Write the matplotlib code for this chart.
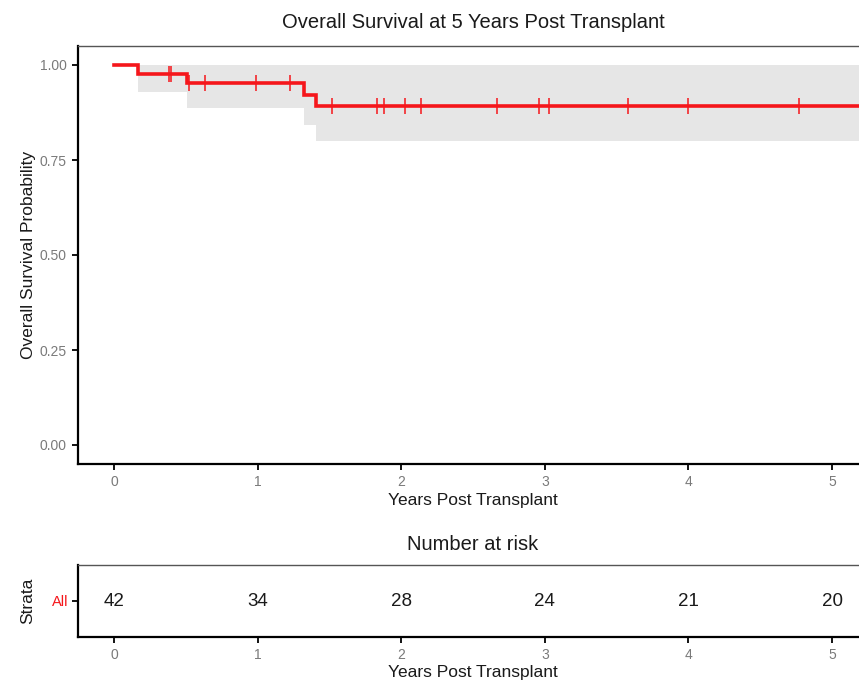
import matplotlib
matplotlib.use("Agg")
import matplotlib.pyplot as plt
import numpy as np

plt.rcParams["font.family"] = ["Liberation Sans", "DejaVu Sans"]

# Data
step_times = [0.0, 0.17, 0.51, 1.32, 1.407, 5.25]
surv = [1.0, 0.976, 0.952, 0.921, 0.893, 0.893]
ci_lower = [1.0, 0.930, 0.888, 0.841, 0.801, 0.801]
ci_upper = [1.0, 1.0, 1.0, 1.0, 1.0, 1.0]
censor_times = [0.385, 0.40, 0.52, 0.634, 0.99, 1.226, 1.52, 1.83, 1.88,
                2.03, 2.14, 2.67, 2.96, 3.03, 3.58, 4.0, 4.77]
risk_times = [0, 1, 2, 3, 4, 5]
risk_counts = [42, 34, 28, 24, 21, 20]
strata = ["All"]
x_ticks = [0, 1, 2, 3, 4, 5]
y_ticks = [0.0, 0.25, 0.5, 0.75, 1.0]
y_ticklabels = ["0.00", "0.25", "0.50", "0.75", "1.00"]

W, H = 859, 685
fig = plt.figure(figsize=(W / 100, H / 100), dpi=100)
fig.patch.set_facecolor("white")

def frac(l, t, r, b):
    return [l / W, 1 - b / H, (r - l) / W, (b - t) / H]

tick_col = "#7a7a7a"
red = "#F5161B"
txt = "#1a1a1a"

ax = fig.add_axes(frac(78, 46, 868, 464))
ax.fill_between(step_times, ci_lower, ci_upper, step="post", color="#E6E6E6", lw=0)
ax.step(step_times, surv, where="post", color=red, lw=2.6, solid_joinstyle="miter")
cens_y = [surv[np.searchsorted(step_times, t, side="right") - 1] for t in censor_times]
ax.plot(censor_times, cens_y, ls="none", marker="|", ms=12, mew=1.1, color=red)
ax.set_xlim(-0.25, 5.25)
ax.set_ylim(-0.05, 1.05)
ax.set_xticks(x_ticks)
ax.set_yticks(y_ticks)
ax.set_yticklabels(y_ticklabels)
ax.tick_params(axis="both", colors="black", labelcolor=tick_col, labelsize=10,
               length=4, width=1.3, direction="out", pad=4)
for s in ["left", "bottom"]:
    ax.spines[s].set_linewidth(1.6)
    ax.spines[s].set_color("black")
for s in ["top", "right"]:
    ax.spines[s].set_linewidth(1.0)
    ax.spines[s].set_color("#555555")
ax.set_xlabel("Years Post Transplant", fontsize=12.5, color=txt, labelpad=3)
ax.set_ylabel("Overall Survival Probability", fontsize=12.5, color=txt, labelpad=3)
ax.set_title("Overall Survival at 5 Years Post Transplant", fontsize=14.5,
             color=txt, pad=13)

ax2 = fig.add_axes(frac(78, 565, 868, 637))
for t, n in zip(risk_times, risk_counts):
    ax2.text(t, 0, str(n), ha="center", va="center", fontsize=13.5, color=txt)
ax2.set_xlim(-0.25, 5.25)
ax2.set_ylim(-0.5, 0.5)
ax2.set_xticks(x_ticks)
ax2.set_yticks([0])
ax2.set_yticklabels(strata)
ax2.tick_params(axis="x", colors="black", labelcolor=tick_col, labelsize=10,
                length=4, width=1.3, pad=4)
ax2.tick_params(axis="y", colors="black", labelsize=10.5, length=4, width=1.3, pad=3)
ax2.get_yticklabels()[0].set_color(red)
for s in ["left", "bottom"]:
    ax2.spines[s].set_linewidth(1.6)
    ax2.spines[s].set_color("black")
for s in ["top", "right"]:
    ax2.spines[s].set_linewidth(1.0)
    ax2.spines[s].set_color("#555555")
ax2.set_xlabel("Years Post Transplant", fontsize=12.5, color=txt, labelpad=2)
ax2.set_ylabel("Strata", fontsize=12.5, color=txt, labelpad=12)
ax2.set_title("Number at risk", fontsize=14.5, color=txt, pad=11)

fig.savefig("out.png", dpi=100)
